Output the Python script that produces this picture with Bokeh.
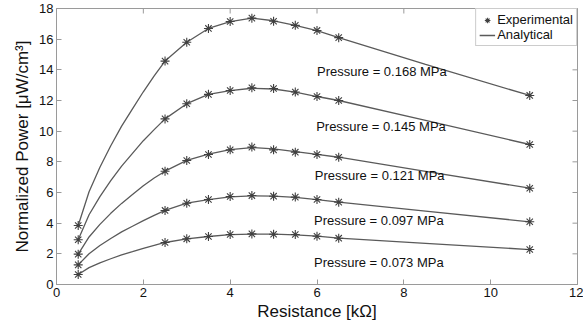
import math
from bokeh.plotting import figure
from bokeh.models import Range1d, FixedTicker, Legend, LegendItem, ColumnDataSource
from bokeh.core.properties import value
from bokeh.embed import file_html
from bokeh.resources import INLINE

# Experimental data (resistance in kOhm)
exp_x = [0.5, 2.5, 3.0, 3.5, 4.0, 4.5, 5.0, 5.5, 6.0, 6.5, 10.9]
exp_168 = [3.85, 14.57, 15.8, 16.7, 17.15, 17.37, 17.17, 16.9, 16.57, 16.1, 12.33]
exp_145 = [2.92, 10.8, 11.79, 12.4, 12.65, 12.83, 12.78, 12.55, 12.26, 12.0, 9.13]
exp_121 = [1.98, 7.39, 8.09, 8.48, 8.78, 8.96, 8.78, 8.63, 8.48, 8.3, 6.28]
exp_097 = [1.28, 4.83, 5.3, 5.54, 5.74, 5.8, 5.76, 5.7, 5.54, 5.37, 4.09]
exp_073 = [0.65, 2.74, 2.98, 3.13, 3.26, 3.3, 3.28, 3.26, 3.15, 3.02, 2.28]

# Analytical curves
ana_x = [0.5, 0.75, 1.0, 1.25, 1.5, 1.75, 2.0, 2.25, 2.5, 3.0, 3.5, 4.0, 4.5, 5.0, 5.5, 6.0, 6.5, 8.5, 10.9]
ana_168 = [3.85, 6.05, 7.65, 9.05, 10.33, 11.45, 12.57, 13.6, 14.57, 15.8, 16.7, 17.15, 17.37, 17.2, 16.9, 16.55, 16.1, 14.35, 12.33]
ana_145 = [2.92, 4.55, 5.73, 6.77, 7.72, 8.55, 9.38, 10.1, 10.8, 11.79, 12.4, 12.65, 12.8, 12.75, 12.55, 12.26, 12.0, 10.7, 9.13]
ana_121 = [1.98, 3.1, 3.92, 4.64, 5.29, 5.87, 6.44, 6.95, 7.39, 8.09, 8.5, 8.8, 8.93, 8.85, 8.67, 8.48, 8.3, 7.38, 6.28]
ana_097 = [1.28, 2.01, 2.54, 3.0, 3.43, 3.8, 4.17, 4.51, 4.83, 5.3, 5.54, 5.72, 5.78, 5.76, 5.68, 5.54, 5.37, 4.79, 4.09]
ana_073 = [0.65, 1.1, 1.41, 1.68, 1.93, 2.14, 2.36, 2.55, 2.74, 2.98, 3.13, 3.25, 3.29, 3.28, 3.24, 3.15, 3.02, 2.68, 2.28]

pressure_labels = ["Pressure = 0.168 MPa", "Pressure = 0.145 MPa", "Pressure = 0.121 MPa",
                   "Pressure = 0.097 MPa", "Pressure = 0.073 MPa"]
label_x = [6.0, 5.98, 5.95, 5.93, 5.93]
label_y = [13.9, 10.3, 7.1, 4.17, 1.46]

x_min, x_max = 0, 12
y_min, y_max = 0, 18
x_ticks = [0, 2, 4, 6, 8, 10, 12]
y_ticks = [0, 2, 4, 6, 8, 10, 12, 14, 16, 18]

FONT = "Liberation Sans"
AX = "#9a9a9a"
LINE = "#5a5a5a"
MARK = "#404040"

p = figure(width=583, height=324, output_backend="svg", toolbar_location=None,
           x_range=Range1d(x_min, x_max), y_range=Range1d(y_min, y_max),
           min_border_left=56, min_border_right=6, min_border_top=8, min_border_bottom=40)
p.xgrid.visible = False
p.ygrid.visible = False
p.outline_line_color = AX
p.background_fill_color = "white"
p.border_fill_color = "white"

for ax in (p.xaxis[0], p.yaxis[0]):
    ax.axis_line_color = AX
    ax.major_tick_line_color = AX
    ax.minor_tick_line_color = None
    ax.major_tick_in = 5
    ax.major_tick_out = 0
    ax.major_label_text_font = FONT
    ax.major_label_text_color = "#111111"
    ax.major_label_text_font_size = "13px"
    ax.major_label_standoff = 3
    ax.axis_label_text_font = FONT
    ax.axis_label_text_font_style = "normal"
    ax.axis_label_text_color = "#111111"
    ax.axis_label_text_font_size = "17px"

p.xaxis.ticker = FixedTicker(ticks=x_ticks)
p.yaxis.ticker = FixedTicker(ticks=y_ticks)
p.xaxis.axis_label = "Resistance [kΩ]"
p.yaxis.axis_label = "Normalized Power [μW/cm³]"
p.xaxis.axis_label_standoff = 2
p.yaxis.axis_label_standoff = 4

# inward ticks on right and top edges of the box
p.scatter([x_max] * len(y_ticks), y_ticks, marker="dash", size=10, line_color=AX, line_width=1)
p.scatter(x_ticks, [y_max] * len(x_ticks), marker="dash", size=10, angle=math.pi / 2,
          line_color=AX, line_width=1)

line_r = None
mark_r = None
for ys_a, ys_e in [(ana_168, exp_168), (ana_145, exp_145), (ana_121, exp_121),
                   (ana_097, exp_097), (ana_073, exp_073)]:
    line_r = p.line(ana_x, ys_a, line_color=LINE, line_width=1.3)
    mark_r = p.scatter(exp_x, ys_e, marker="asterisk", size=9, line_color=MARK, line_width=1.1)

src = ColumnDataSource(dict(x=label_x, y=label_y, t=pressure_labels))
p.text(x="x", y="y", text="t", source=src, text_font=value(FONT), text_font_size="13px",
       text_color="#111111", text_baseline="middle", text_align="left")

legend = Legend(items=[LegendItem(label="Experimental", renderers=[mark_r]),
                       LegendItem(label="Analytical", renderers=[line_r])],
                location="top_right")
legend.margin = 0
legend.padding = 3
legend.spacing = 0
legend.glyph_width = 16
legend.glyph_height = 14
legend.label_height = 14
legend.label_standoff = 2
legend.label_text_font = FONT
legend.label_text_font_size = "13px"
legend.label_text_color = "#111111"
legend.border_line_color = AX
legend.background_fill_alpha = 1
p.add_layout(legend)

open("out.html", "w").write(file_html(p, INLINE))
